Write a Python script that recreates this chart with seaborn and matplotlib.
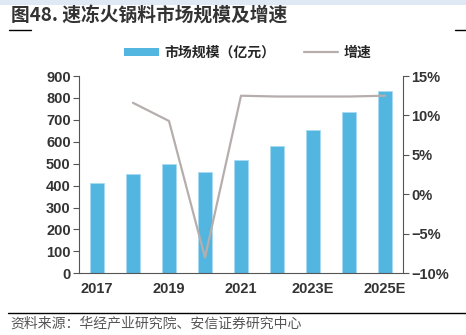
import matplotlib
matplotlib.use("Agg")
import matplotlib.pyplot as plt
import seaborn as sns
import pandas as pd
import numpy as np
from matplotlib.lines import Line2D
from matplotlib.patches import Patch, Rectangle

years = ["2017", "2018", "2019", "2020", "2021", "2022", "2023E", "2024E", "2025E"]
market_size = [410, 455, 500, 460, 518, 582, 653, 735, 830]
growth_pct = [None, 11.6, 9.3, -8.0, 12.5, 12.4, 12.4, 12.4, 12.5]
shown_labels = ["2017", "2019", "2021", "2023E", "2025E"]

sns.set_theme(style="white")
plt.rcParams['font.family'] = ['Noto Sans CJK SC', 'DejaVu Sans']

fig = plt.figure(figsize=(4.66, 3.35), dpi=100)
ax = fig.add_axes([79/466, 1-273.3/335, (403-79)/466, (273.3-76)/335])

df = pd.DataFrame({"year": years, "size": market_size})
sns.barplot(data=df, x="year", y="size", ax=ax, color="#52b6e0", saturation=1,
            width=0.4, edgecolor="#a8dcf2", linewidth=0.6)
ax.set_ylim(0, 900)
ax.set_xlim(-0.5, len(years) - 0.5)
ax.set_yticks(range(0, 901, 100))
ax.set_xlabel("")
ax.set_ylabel("")

ax.set_xticks(range(len(years)))
ax.set_xticklabels([y if y in shown_labels else "" for y in years])
ax.set_xticks(np.arange(-0.5, len(years), 1.0), minor=True)
ax.tick_params(axis="x", which="major", length=0, pad=6)
ax.tick_params(axis="x", which="minor", length=4, color="#555555", width=0.8, direction="out")
ax.tick_params(axis="y", length=4, color="#555555", width=0.8, direction="out", pad=2)
for lab in ax.get_xticklabels() + ax.get_yticklabels():
    lab.set_fontsize(10.5)
    lab.set_fontweight("bold")
    lab.set_color("#333333")
    lab.set_family(["Liberation Sans", "DejaVu Sans"])

for s in ["top", "right"]:
    ax.spines[s].set_visible(False)
for s in ["left", "bottom"]:
    ax.spines[s].set_color("#555555")
    ax.spines[s].set_linewidth(0.8)

ax2 = ax.twinx()
gx = [i for i, g in enumerate(growth_pct) if g is not None]
gy = [g for g in growth_pct if g is not None]
sns.lineplot(x=gx, y=gy, ax=ax2, color="#b5aeac", linewidth=1.6)
ax2.set_ylim(-10, 15)
ax2.set_yticks(range(-10, 16, 5))
ax2.set_yticklabels([f"{v}%".replace("-", "\u2212") for v in range(-10, 16, 5)])
ax2.set_xlim(-0.5, len(years) - 0.5)
ax2.grid(False)
ax2.tick_params(axis="y", length=4, color="#555555", width=0.8, direction="out", pad=2)
for lab in ax2.get_yticklabels():
    lab.set_fontsize(10.5)
    lab.set_fontweight("bold")
    lab.set_color("#333333")
    lab.set_family(["Liberation Sans", "DejaVu Sans"])
for s in ["top", "left", "bottom"]:
    ax2.spines[s].set_visible(False)
ax2.spines["right"].set_color("#555555")
ax2.spines["right"].set_linewidth(0.8)

# top band
fig.add_artist(Rectangle((0, 1 - 5/335), 1, 5/335, transform=fig.transFigure,
                         facecolor="#dfe8f5", edgecolor="none"))

fig.text(11/466, 1 - 15/335, "图48. 速冻火锅料市场规模及增速", fontsize=13.5,
         fontweight="bold", color="#333333", va="center", ha="left")
fig.add_artist(Line2D([9/466, 31/466], [1 - 29.5/335] * 2, color="black", lw=1.0,
                      transform=fig.transFigure))
fig.add_artist(Line2D([455/466, 1.0], [1 - 29.5/335] * 2, color="black", lw=1.0,
                      transform=fig.transFigure))

handles = [Patch(facecolor="#52b6e0", edgecolor="none"),
           Line2D([], [], color="#b5aeac", lw=1.6)]
fig.legend(handles, ["市场规模（亿元）", "增速"], loc="center", ncol=2,
           bbox_to_anchor=(248/466, 1 - 53/335), frameon=False,
           handlelength=2.5, handleheight=0.55, handletextpad=0.4, columnspacing=2.0,
           prop={"weight": "bold", "size": 10})

fig.add_artist(Line2D([8/466, 1.0], [1 - 313/335] * 2, color="black", lw=1.0,
                      transform=fig.transFigure))
fig.text(10/466, 1 - 323/335, "资料来源：华经产业研究院、安信证券研究中心", fontsize=10,
         color="#555555", va="center", ha="left", style="italic")

fig.savefig("out.png", dpi=100)
